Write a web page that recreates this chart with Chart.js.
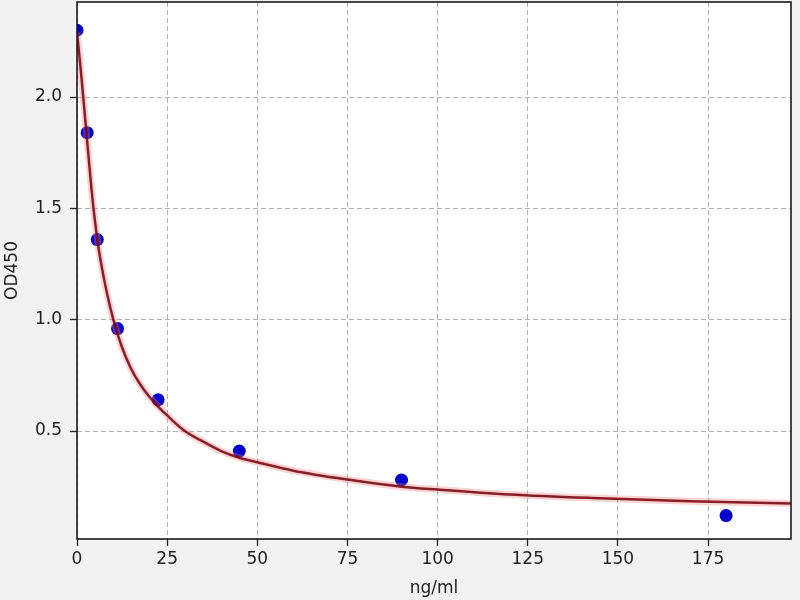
<!DOCTYPE html>
<html lang="en">
<head>
    <meta charset="UTF-8">
    <title>OD450 standard curve</title>
    <script src="https://cdn.jsdelivr.net/npm/chart.js"></script>
    <style>
        body {
            margin: 0;
            padding: 0;
            background-color: #f2f2f2;
        }
        #wrap {
            width: 800px;
            height: 600px;
        }
    </style>
</head>
<body>
    <div id="wrap"><canvas id="curveChart"></canvas></div>
    <script>
        // measured standards
        const concX = [0, 2.8125, 5.625, 11.25, 22.5, 45, 90, 180];
        const odY = [2.30, 1.84, 1.36, 0.96, 0.64, 0.41, 0.28, 0.12];

        // fitted curve
        const fitX = [0, 1, 2, 3, 4, 5, 6, 7, 8.5, 10, 12.5, 15, 17.5, 20, 22.5, 25, 29.5, 35, 40, 45, 50, 60, 75, 90, 100, 120, 145, 170, 198];
        const fitY = [2.29, 2.13, 1.95, 1.77, 1.59, 1.44, 1.32, 1.225, 1.105, 1.005, 0.875, 0.78, 0.71, 0.655, 0.61, 0.57, 0.505, 0.452, 0.41, 0.38, 0.36, 0.322, 0.282, 0.25, 0.237, 0.215, 0.198, 0.185, 0.175];

        const xTicks = [0, 25, 50, 75, 100, 125, 150, 175];
        const yTicks = [0.5, 1.0, 1.5, 2.0];

        const toXY = (xs, ys) => xs.map((x, i) => ({ x: x, y: ys[i] }));

        // grey page, white plot area, black frame
        const framePlugin = {
            id: 'frame',
            beforeDraw(chart) {
                const c = chart.ctx, a = chart.chartArea;
                c.save();
                c.fillStyle = '#f2f2f2';
                c.fillRect(0, 0, chart.width, chart.height);
                c.fillStyle = '#ffffff';
                c.fillRect(a.left, a.top, a.right - a.left, a.bottom - a.top);
                c.restore();
            },
            afterDraw(chart) {
                const c = chart.ctx, a = chart.chartArea;
                c.save();
                c.strokeStyle = '#1a1a1a';
                c.lineWidth = 1.6;
                c.strokeRect(a.left, a.top, a.right - a.left, a.bottom - a.top);
                c.restore();
            }
        };

        const tickFont = { family: 'DejaVu Sans', size: 17 };

        // no extra room for half tick labels at the ends
        const noPad = s => { s.paddingTop = 0; s.paddingBottom = 0; s.paddingLeft = 0; s.paddingRight = 0; };

        const gridOpts = {
            color: '#b0b0b0',
            lineWidth: 1,
            tickLength: 7,
            tickColor: '#222222',
            tickWidth: 1.3,
            tickBorderDash: []
        };

        const data = {
            datasets: [
                {
                    label: 'fit core',
                    data: toXY(fitX, fitY),
                    showLine: true,
                    borderColor: 'rgba(120, 5, 15, 0.88)',
                    borderWidth: 2.5,
                    pointRadius: 0,
                    cubicInterpolationMode: 'monotone',
                    clip: 0,
                    order: 1
                },
                {
                    label: 'fit halo',
                    data: toXY(fitX, fitY),
                    showLine: true,
                    borderColor: 'rgba(245, 130, 130, 0.35)',
                    borderWidth: 7,
                    pointRadius: 0,
                    cubicInterpolationMode: 'monotone',
                    clip: 0,
                    order: 2
                },
                {
                    label: 'standards',
                    data: toXY(concX, odY),
                    showLine: false,
                    backgroundColor: '#0000cc',
                    borderColor: '#0000cc',
                    borderWidth: 0,
                    pointRadius: 6.5,
                    clip: 0,
                    order: 3
                }
            ]
        };

        const config = {
            type: 'scatter',
            data,
            plugins: [framePlugin],
            options: {
                responsive: true,
                maintainAspectRatio: false,
                animation: false,
                layout: {
                    autoPadding: false,
                    padding: { top: 2, right: 9, left: 0, bottom: 0 }
                },
                plugins: {
                    legend: { display: false },
                    tooltip: { enabled: false }
                },
                scales: {
                    x: {
                        type: 'linear',
                        min: 0,
                        max: 198,
                        afterFit(scale) { scale.height = 61; noPad(scale); },
                        afterBuildTicks(scale) { scale.ticks = xTicks.map(v => ({ value: v })); },
                        ticks: {
                            font: tickFont,
                            color: '#222222',
                            padding: 3,
                            maxRotation: 0,
                            callback: v => String(v)
                        },
                        grid: gridOpts,
                        border: { display: false, dash: [5, 3] },
                        title: {
                            display: true,
                            text: 'ng/ml',
                            font: tickFont,
                            color: '#222222',
                            padding: { top: 0, bottom: 1 }
                        }
                    },
                    y: {
                        type: 'linear',
                        min: 0.015,
                        max: 2.427,
                        afterFit(scale) { scale.width = 77; noPad(scale); },
                        afterBuildTicks(scale) { scale.ticks = yTicks.map(v => ({ value: v })); },
                        ticks: {
                            font: tickFont,
                            color: '#222222',
                            padding: 8,
                            callback: v => v.toFixed(1)
                        },
                        grid: gridOpts,
                        border: { display: false, dash: [5, 3] },
                        title: {
                            display: true,
                            text: 'OD450',
                            font: tickFont,
                            color: '#222222',
                            padding: { top: 2, bottom: 0 }
                        }
                    }
                }
            }
        };

        new Chart(document.getElementById('curveChart').getContext('2d'), config);
    </script>
</body>
</html>
